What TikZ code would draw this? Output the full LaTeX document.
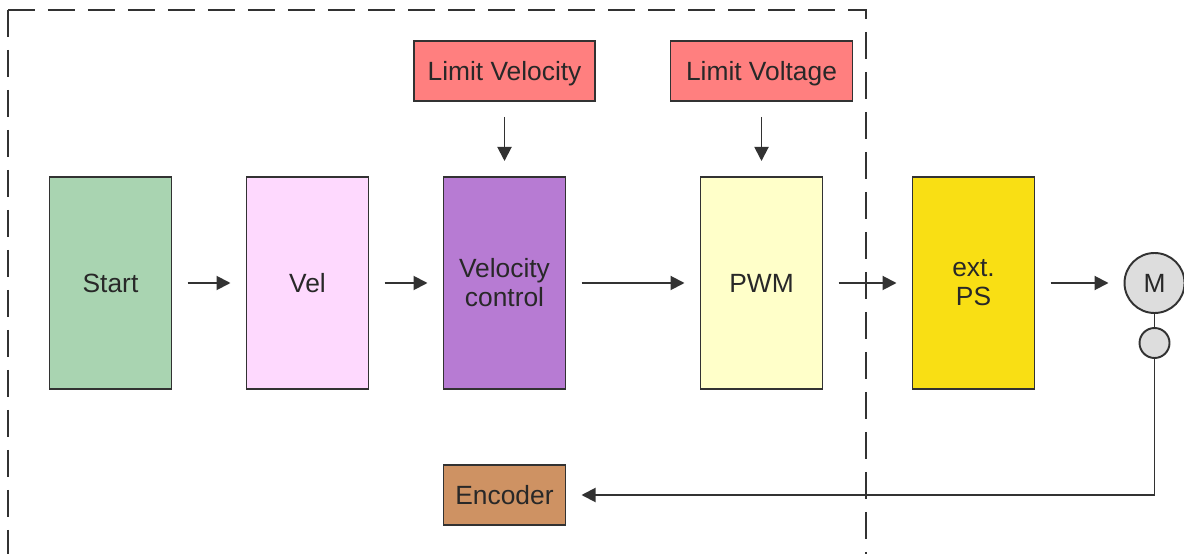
\documentclass[tikz,border=0pt]{standalone}
\usepackage{fontspec}
\setmainfont{Liberation Sans}
\usetikzlibrary{positioning, arrows.meta}

\begin{document}
\begin{tikzpicture}[
  font=\fontsize{15}{16.5}\selectfont,
  node distance=1.5cm,
  block/.style={
    draw=cLine, line width=1.1pt, minimum width=2.44cm, minimum height=4.24cm,
    inner sep=0pt, outer sep=0pt, align=center, text=cText
  },
  limit/.style={
    draw=cLine, line width=1.1pt, fill=cLimit, minimum width=3.62cm,
    minimum height=1.2cm, inner sep=0pt, outer sep=0pt, text depth=0pt, text=cText
  },
  disc/.style={
    circle, draw=cLine, line width=1.1pt, fill=cMotor,
    inner sep=0pt, outer sep=0pt, text=cText
  },
  flow/.style={
    -{Triangle[length=0.28cm, width=0.28cm]}, line width=1.1pt, draw=cLine,
    shorten >=0.32cm, shorten <=0.32cm
  }
]

  % Colors
  \definecolor{cLine}{RGB}{50,50,50}
  \definecolor{cText}{RGB}{40,40,40}
  \definecolor{cStart}{RGB}{169,212,177}
  \definecolor{cVel}{RGB}{254,217,254}
  \definecolor{cCtrl}{RGB}{183,123,211}
  \definecolor{cPwm}{RGB}{255,255,201}
  \definecolor{cPs}{RGB}{249,223,20}
  \definecolor{cLimit}{RGB}{255,127,127}
  \definecolor{cEnc}{RGB}{206,146,99}
  \definecolor{cMotor}{RGB}{221,221,221}

  \useasboundingbox (-2.21,-5.4) rectangle (21.47,5.66);

  % --- MAIN BLOCKS ---
  \node [block, fill=cStart] (start) at (0,0) {Start};
  \node [block, fill=cVel, right=1.5cm of start] (vel) {Vel};
  \node [block, fill=cCtrl, right=1.5cm of vel] (velctrl) {Velocity\\control};
  \node [block, fill=cPwm, right=2.7cm of velctrl] (pwm) {PWM};
  \node [block, fill=cPs, right=1.8cm of pwm] (extps) {ext.\\PS};

  % Motor and its encoder disc
  \node [disc, minimum size=1.2cm, right=1.8cm of extps] (motor) {M};
  \node [disc, minimum size=0.6cm, below=0.3cm of motor] (motorenc) {};

  % --- LIMITS ---
  \node [limit, above=1.52cm of velctrl] (limvel) {Limit Velocity};
  \node [limit, minimum width=3.64cm, above=1.52cm of pwm] (limvolt) {Limit Voltage};

  % --- FEEDBACK ---
  \node [block, fill=cEnc, minimum height=1.2cm, below=1.52cm of velctrl] (encoder) {Encoder};

  % --- CONNECTIONS ---
  \draw[flow] (start) -- (vel);
  \draw[flow] (vel) -- (velctrl);
  \draw[flow] (velctrl) -- (pwm);
  \draw[flow] (pwm) -- (extps);
  \draw[flow] (extps) -- (motor);
  \draw[flow] (limvel) -- (velctrl);
  \draw[flow] (limvolt) -- (pwm);
  \draw[cLine, line width=1.1pt] (motor) -- (motorenc);
  \draw[flow, shorten <=0pt] (motorenc.south) |- (encoder.east);

  % --- CONTROLLER FRAME (dashed) ---
  \coordinate (frametl) at (-2.05,5.46);
  \draw[cLine, line width=1.1pt, dash pattern=on 0.54cm off 0.26cm]
    (frametl) -- (-2.05,-5.6);
  \draw[cLine, line width=1.1pt, dash pattern=on 0.54cm off 0.26cm]
    (frametl) -- (15.11,5.46) -- (15.11,-5.6);

\end{tikzpicture}
\end{document}
